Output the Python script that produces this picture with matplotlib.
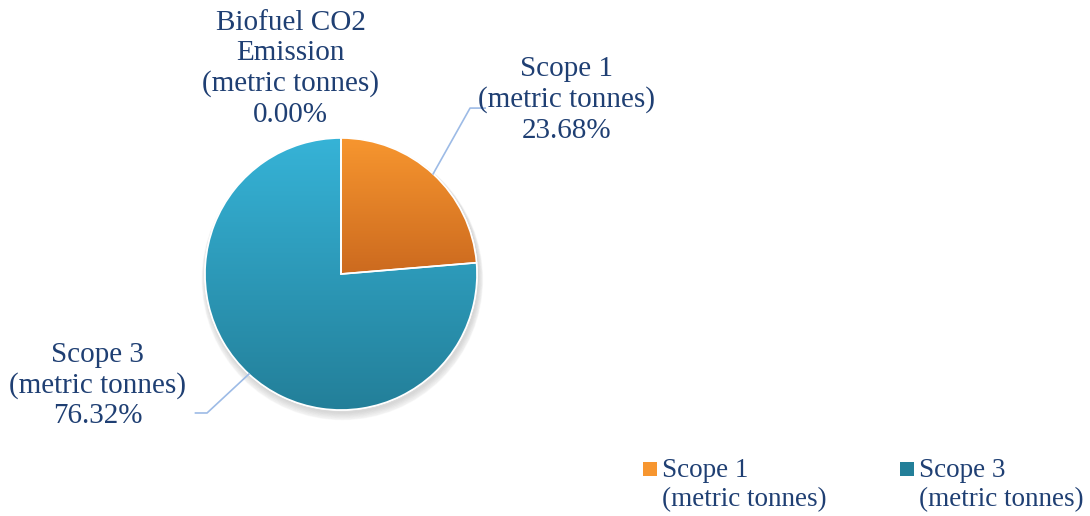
import numpy as np
import matplotlib
matplotlib.use("Agg")
import matplotlib.pyplot as plt
from matplotlib.colors import LinearSegmentedColormap
from matplotlib.patches import Patch, Rectangle
from matplotlib.legend_handler import HandlerPatch

# data
categories = ["Biofuel CO2\nEmission\n(metric tonnes)", "Scope 1\n(metric tonnes)", "Scope 3\n(metric tonnes)"]
shares = [0.00, 23.68, 76.32]
legend_labels = ["Scope 1\n(metric tonnes)", "Scope 3\n(metric tonnes)"]

# top / bottom gradient colours for each slice
grad = [("#36B3D7", "#2A8AA3"), ("#F7962F", "#CC6A1F"), ("#36B3D7", "#237F99")]
text_col = "#1F3F73"
line_col = "#9DBBE6"

plt.rcParams['font.family'] = ['Liberation Serif', 'DejaVu Serif']

fig = plt.figure(figsize=(10.9, 5.16), dpi=100)
W, H = 1090, 516
cx, cy, r = 341, 274, 136
ax = fig.add_axes([(cx - r) / W, (H - cy - r) / H, 2 * r / W, 2 * r / H])

wedges, _ = ax.pie(shares, startangle=90, counterclock=False, radius=1,
                   wedgeprops=dict(edgecolor='white', linewidth=1.2, facecolor='none'))

# soft shadow
for i in range(6):
    sh = plt.Circle((0.01, -0.02 - i * 0.004), 1.0 + i * 0.006, color='gray', alpha=0.05,
                    zorder=0, clip_on=False)
    ax.add_patch(sh)
ax.add_patch(plt.Circle((0, 0), 1.0, color='white', zorder=0.5, clip_on=False))

for w, (top, bot) in zip(wedges, grad):
    cmap = LinearSegmentedColormap.from_list('g', [top, bot])
    th1, th2 = np.radians(w.theta1), np.radians(w.theta2)
    ts = np.linspace(th1, th2, 50)
    ys = np.concatenate([[0], np.sin(ts)])
    y0, y1 = ys.min(), ys.max()
    if y1 - y0 < 1e-6:
        continue
    im = ax.imshow(np.linspace(0, 1, 256).reshape(-1, 1), cmap=cmap, aspect='auto',
                   extent=[-1, 1, y0, y1], origin='upper', zorder=1)
    im.set_clip_path(w)
    w.set_zorder(2)
    w.set_clip_on(False)

ax.set_xlim(-1, 1)
ax.set_ylim(-1, 1)
ax.set_aspect('equal')
ax.axis('off')

# data labels with leader lines
def label_pos(idx):
    w = wedges[idx]
    mid = np.radians((w.theta1 + w.theta2) / 2)
    return np.cos(mid), np.sin(mid)

ls = 1.22
# Scope 1
x, y = label_pos(1)
ax.plot([x, 0.949, 1.06], [y, 1.22, 1.22], color=line_col, lw=1.2, clip_on=False)
ax.text(1.66, 1.28, f"{categories[1]}\n{shares[1]:.2f}%", ha='center', va='center',
        fontsize=21, color=text_col, linespacing=ls, clip_on=False)
# Scope 3
x, y = label_pos(2)
ax.plot([x, -0.985, -1.07], [y, -1.022, -1.022], color=line_col, lw=1.2, clip_on=False)
ax.text(-1.79, -0.82, f"{categories[2]}\n{shares[2]:.2f}%", ha='center', va='center',
        fontsize=21, color=text_col, linespacing=ls, clip_on=False)
# Biofuel
ax.text(-0.37, 1.51, f"{categories[0]}\n{shares[0]:.2f}%", ha='center', va='center',
        fontsize=21, color=text_col, linespacing=ls, clip_on=False)


# legend square sits next to the first text line
def top_square(legend, orig_handle, xdescent, ydescent, width, height, fontsize):
    s = width
    return Rectangle((-xdescent, -ydescent + height - s + 0.1 * fontsize), s, s)


handles = [Patch(facecolor=grad[1][0], edgecolor='none'), Patch(facecolor=grad[2][1], edgecolor='none')]
leg = fig.legend(handles, legend_labels, loc='lower left', bbox_to_anchor=(0.568, -0.039),
                 ncol=2, frameon=False, fontsize=19.5, handlelength=0.5, handleheight=2.0,
                 handletextpad=0.2, columnspacing=2.7, labelspacing=0.3,
                 handler_map={Patch: HandlerPatch(patch_func=top_square)})
for t in leg.get_texts():
    t.set_color(text_col)
    t.set_linespacing(1.2)

fig.savefig("out.png", dpi=100)
